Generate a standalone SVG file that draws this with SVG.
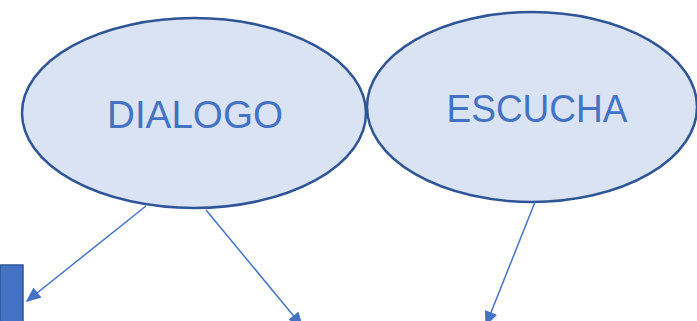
<svg xmlns="http://www.w3.org/2000/svg" width="697" height="321" viewBox="0 0 697 321">
<style>
.node ellipse{fill:#DAE3F3;stroke:#2F5597;stroke-width:2.5}
.lbl{font-family:"Liberation Sans",Arial,sans-serif;font-size:39px;fill:#4472C4;text-anchor:middle}
.conn line{stroke:#4472C4;stroke-width:1.5;marker-end:url(#ah)}
</style>
<defs>
<marker id="ah" viewBox="0 0 10 10" refX="9" refY="5" markerWidth="15" markerHeight="13" markerUnits="userSpaceOnUse" orient="auto" preserveAspectRatio="none">
<path d="M0,0 L10,5 L0,10 z" fill="#4472C4"/>
</marker>
</defs>
<rect x="0" y="265" width="23" height="60" fill="#4472C4" stroke="#2F5597" stroke-width="1.5"/>
<g id="dialogo" class="node">
<ellipse cx="194" cy="113" rx="172" ry="95"/>
<text class="lbl" x="195" y="128" textLength="176" lengthAdjust="spacingAndGlyphs">DIALOGO</text>
</g>
<g id="escucha" class="node">
<ellipse cx="532" cy="107" rx="165" ry="95"/>
<text class="lbl" x="537" y="122" textLength="181" lengthAdjust="spacingAndGlyphs">ESCUCHA</text>
</g>
<g id="connectors" class="conn">
<line x1="146" y1="206" x2="27" y2="301"/>
<line x1="206" y1="210" x2="302" y2="326"/>
<line x1="535" y1="202" x2="486" y2="325"/>
</g>
</svg>
